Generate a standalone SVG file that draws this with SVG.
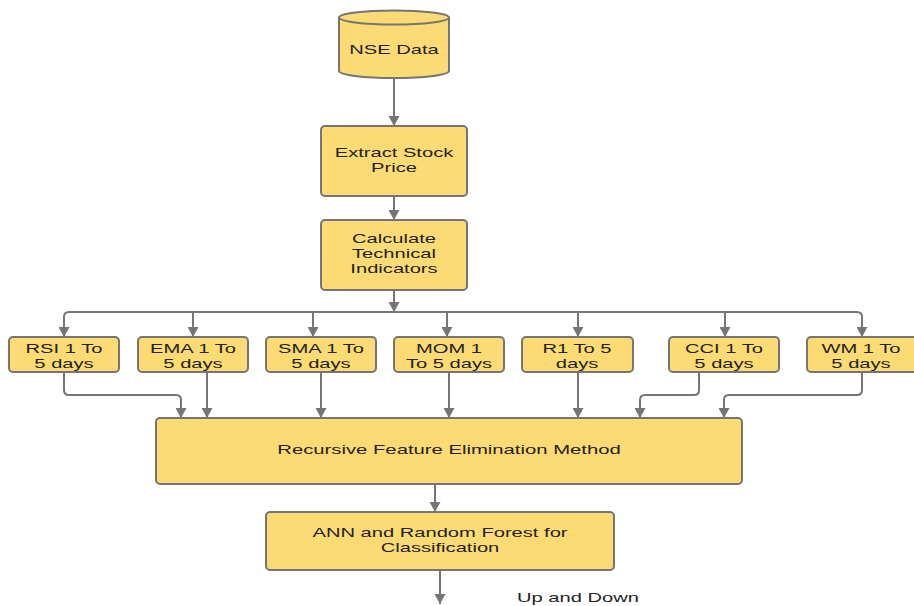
<svg xmlns="http://www.w3.org/2000/svg" width="914" height="606" viewBox="0 0 914 606">
  <style>
    .box { fill: #fcdb74; stroke: #757575; stroke-width: 2; }
    .wire { fill: none; stroke: #757575; stroke-width: 2; }
    .lbl { font-family: "Liberation Sans", Arial, sans-serif; font-size: 13px; fill: #222; text-anchor: middle; }
  </style>
  <defs>
    <marker id="arrow" markerUnits="userSpaceOnUse" markerWidth="11" markerHeight="11" refX="10" refY="5.5" orient="auto">
      <path d="M0,0 L10,5.5 L0,11 z" fill="#757575"/>
    </marker>
  </defs>

  <!-- connectors -->
  <g id="connectors" class="wire" marker-end="url(#arrow)">
    <path d="M394,79 V126"/>
    <path d="M394,197 V220"/>
    <path d="M394,290 V312"/>
    <!-- fan-out bus to the indicator boxes -->
    <path d="M394,312 H69 Q64,312 64,317 V337"/>
    <path d="M394,312 H857 Q862,312 862,317 V337"/>
    <path d="M193,312 V337"/>
    <path d="M313,312 V337"/>
    <path d="M447,312 V337"/>
    <path d="M578,312 V337"/>
    <path d="M725,312 V337"/>
    <!-- indicators into feature elimination -->
    <path d="M64,372 V390 Q64,395 69,395 H176 Q181,395 181,400 V418"/>
    <path d="M207,372 V418"/>
    <path d="M321,372 V418"/>
    <path d="M449,372 V418"/>
    <path d="M578,372 V418"/>
    <path d="M699,372 V390 Q699,395 694,395 H645 Q640,395 640,400 V418"/>
    <path d="M862,372 V390 Q862,395 857,395 H729 Q724,395 724,400 V418"/>
    <path d="M435,484 V512"/>
    <path d="M440,570 V604"/>
  </g>

  <!-- source data store -->
  <g id="nse-data">
    <path class="box" d="M339,17.5 V71 A55,7 0 0 0 449,71 V17.5 A55,7 0 0 0 339,17.5 Z"/>
    <path class="wire" d="M339,17.5 A55,7 0 0 0 449,17.5"/>
    <text class="lbl" transform="translate(394 54) scale(1.55 1)">NSE Data</text>
  </g>

  <g id="extract">
    <rect class="box" x="321" y="126" width="146" height="70" rx="4"/>
    <text class="lbl" transform="translate(394 157) scale(1.55 1)">Extract Stock</text>
    <text class="lbl" transform="translate(394 172) scale(1.55 1)">Price</text>
  </g>

  <g id="calculate">
    <rect class="box" x="321" y="220" width="146" height="70" rx="4"/>
    <text class="lbl" transform="translate(394 243) scale(1.55 1)">Calculate</text>
    <text class="lbl" transform="translate(394 258) scale(1.55 1)">Technical</text>
    <text class="lbl" transform="translate(394 273) scale(1.55 1)">Indicators</text>
  </g>

  <!-- indicator boxes -->
  <g id="rsi">
    <rect class="box" x="9" y="337" width="110" height="35" rx="4"/>
    <text class="lbl" transform="translate(64 353) scale(1.55 1)">RSI 1 To</text>
    <text class="lbl" transform="translate(64 368) scale(1.55 1)">5 days</text>
  </g>
  <g id="ema">
    <rect class="box" x="138" y="337" width="110" height="35" rx="4"/>
    <text class="lbl" transform="translate(193 353) scale(1.55 1)">EMA 1 To</text>
    <text class="lbl" transform="translate(193 368) scale(1.55 1)">5 days</text>
  </g>
  <g id="sma">
    <rect class="box" x="266" y="337" width="110" height="35" rx="4"/>
    <text class="lbl" transform="translate(321 353) scale(1.55 1)">SMA 1 To</text>
    <text class="lbl" transform="translate(321 368) scale(1.55 1)">5 days</text>
  </g>
  <g id="mom">
    <rect class="box" x="394" y="337" width="110" height="35" rx="4"/>
    <text class="lbl" transform="translate(449 353) scale(1.55 1)">MOM 1</text>
    <text class="lbl" transform="translate(449 368) scale(1.55 1)">To 5 days</text>
  </g>
  <g id="r1">
    <rect class="box" x="522" y="337" width="111" height="35" rx="4"/>
    <text class="lbl" transform="translate(577 353) scale(1.55 1)">R1 To 5</text>
    <text class="lbl" transform="translate(577 368) scale(1.55 1)">days</text>
  </g>
  <g id="cci">
    <rect class="box" x="669" y="337" width="110" height="35" rx="4"/>
    <text class="lbl" transform="translate(724 353) scale(1.55 1)">CCI 1 To</text>
    <text class="lbl" transform="translate(724 368) scale(1.55 1)">5 days</text>
  </g>
  <g id="wm">
    <rect class="box" x="807" y="337" width="110" height="35" rx="4"/>
    <text class="lbl" transform="translate(861 353) scale(1.55 1)">WM 1 To</text>
    <text class="lbl" transform="translate(861 368) scale(1.55 1)">5 days</text>
  </g>

  <g id="rfe">
    <rect class="box" x="156" y="418" width="586" height="66" rx="4"/>
    <text class="lbl" transform="translate(449 454) scale(1.56 1)">Recursive Feature Elimination Method</text>
  </g>

  <g id="classifier">
    <rect class="box" x="266" y="512" width="348" height="58" rx="4"/>
    <text class="lbl" transform="translate(440 537) scale(1.55 1)">ANN and Random Forest for</text>
    <text class="lbl" transform="translate(440 552) scale(1.55 1)">Classification</text>
  </g>

  <g id="output-label">
    <text class="lbl" style="text-anchor:start" transform="translate(517 602) scale(1.55 1)">Up and Down</text>
  </g>
</svg>
